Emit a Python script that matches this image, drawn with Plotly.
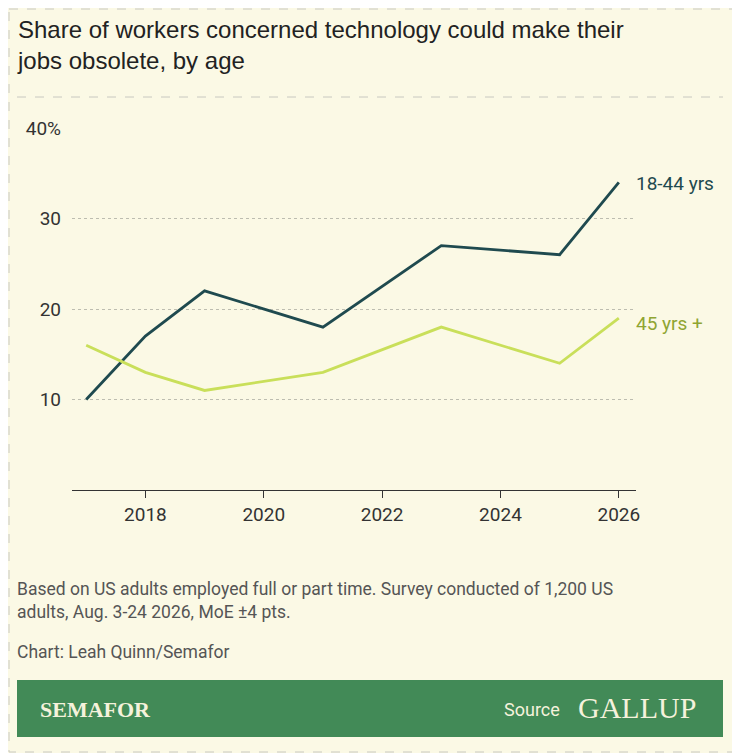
import plotly.graph_objects as go

years = [2017, 2018, 2019, 2021, 2023, 2025, 2026]
young = [10, 17, 22, 18, 27, 26, 34]
older = [16, 13, 11, 13, 18, 14, 19]
y_ticks = [10, 20, 30, 40]
y_labels = ["10", "20", "30", "40%"]
x_ticks = [2018, 2020, 2022, 2024, 2026]

O = 8  # page body offset
W, H = 740 - O, 753 - O
L, R, T, B = 72 - O, 636 - O, 128 - O, 490 - O
def px(x): return (x - O - L) / (R - L)
def py(y): return (B - (y - O)) / (B - T)

BG = "#FBF9E5"
DARK = "#1F4A4F"
LIGHT = "#C9DF5A"

fig = go.Figure()
fig.add_trace(go.Scatter(x=years, y=young, mode="lines", line=dict(color=DARK, width=2.8), hoverinfo="skip"))
fig.add_trace(go.Scatter(x=years, y=older, mode="lines", line=dict(color=LIGHT, width=2.8), hoverinfo="skip"))

fig.update_layout(
    width=W, height=H, paper_bgcolor=BG, plot_bgcolor=BG, showlegend=False,
    margin=dict(l=L, r=W - R, t=T, b=H - B),
    font=dict(family="Roboto", color="#333333", size=19),
    xaxis=dict(range=[2016.76, 2026.29], tickvals=x_ticks, showgrid=False, zeroline=False,
               showline=True, linecolor="#333333", linewidth=1.2, ticks="outside", ticklen=7,
               tickcolor="#333333", tickfont=dict(size=19, color="#333333"), fixedrange=True),
    yaxis=dict(range=[0, 40], tickvals=y_ticks, ticktext=y_labels, showgrid=True,
               gridcolor="#BDBDB0", griddash="dot", gridwidth=1, zeroline=False, showline=False,
               ticks="", ticklabelstandoff=10, tickfont=dict(size=19, color="#333333"), fixedrange=True),
)

ann = [
    dict(x=px(15), y=py(14), text="Share of workers concerned technology could make their<br>jobs obsolete, by age",
         xanchor="left", yanchor="top", align="left", font=dict(family="Liberation Sans", size=24, color="#222222")),
    dict(x=px(634), y=py(183), text="18-44 yrs", xanchor="left", yanchor="middle", font=dict(size=19, color=DARK)),
    dict(x=px(634), y=py(323), text="45 yrs +", xanchor="left", yanchor="middle", font=dict(size=19, color="#8FA532")),
    dict(x=px(15), y=py(577), text="Based on US adults employed full or part time. Survey conducted of 1,200 US<br>adults, Aug. 3-24 2026, MoE ±4 pts.",
         xanchor="left", yanchor="top", align="left", font=dict(size=17.5, color="#555555")),
    dict(x=px(15), y=py(652), text="Chart: Leah Quinn/Semafor", xanchor="left", yanchor="middle",
         font=dict(size=17.5, color="#555555")),
    dict(x=px(38), y=py(709), text="<b>SEMAFOR</b>", xanchor="left", yanchor="middle",
         font=dict(family="Liberation Serif", size=22, color="#F5F2DC")),
    dict(x=px(562), y=py(709), text="Source", xanchor="right", yanchor="middle",
         font=dict(size=18, color="#F5F2DC")),
    dict(x=px(576), y=py(707), text="GALLUP", xanchor="left", yanchor="middle",
         font=dict(family="Liberation Serif", size=30, color="#F5F2DC")),
]
for a in ann:
    a.update(xref="paper", yref="paper", showarrow=False)
fig.update_layout(annotations=ann)

shapes = [
    dict(type="rect", x0=px(9), x1=px(739), y0=py(9), y1=py(752), line=dict(color="#C8C8C0", width=1, dash="dash")),
    dict(type="line", x0=px(17), x1=px(723), y0=py(97), y1=py(97), line=dict(color="#C8C8C0", width=1, dash="dash")),
    dict(type="rect", x0=px(17), x1=px(723), y0=py(680), y1=py(737), fillcolor="#428A57", line=dict(width=0), layer="above"),
]
for s in shapes:
    s.update(xref="paper", yref="paper")
fig.update_layout(shapes=shapes)

fig.write_html("out.html", config={"displayModeBar": False})
